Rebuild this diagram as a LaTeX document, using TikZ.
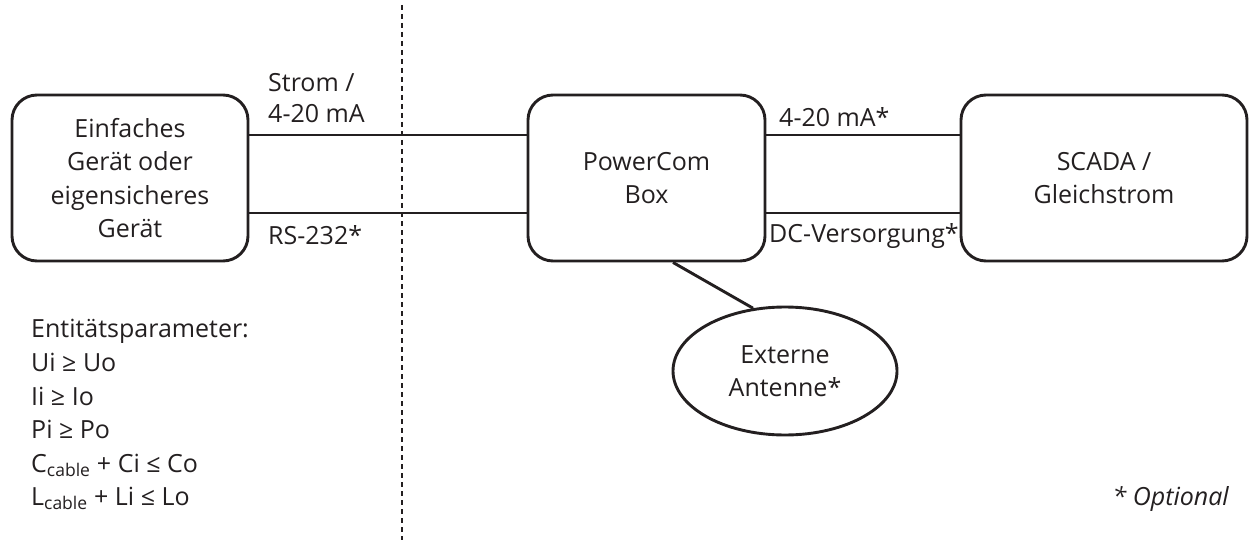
\documentclass[tikz,border=0pt]{standalone}
\usepackage{fontspec}
\setmainfont{Open Sans}
\usetikzlibrary{shapes.geometric,calc}
\definecolor{ink}{HTML}{231F20}
\tikzset{
  txt/.style={text=ink, font=\fontsize{25}{33.5}\selectfont},
  box/.style={txt, draw=ink, line width=2.9pt, rounded corners=25pt, minimum height=166pt, inner sep=0pt, align=center},
  oval/.style={txt, draw=ink, line width=2.9pt, ellipse, minimum width=224pt, minimum height=128pt, inner sep=0pt, align=center},
  wire/.style={draw=ink, line width=2.9pt},
  lbl/.style={txt, inner sep=0pt, anchor=base west},
  divider/.style={draw=ink, line width=1.2pt, dash pattern=on 5pt off 4pt}
}
\begin{document}
\begin{tikzpicture}[x=1pt,y=-1pt]
\useasboundingbox (0,0) rectangle (1249,540);
% divider
\coordinate (dtop) at (402,5);
\coordinate (dbot) at (402,540);
\draw[divider] (dtop) -- (dbot);
% boxes
\node[box, minimum width=236pt] (dev) at (130,178) {Einfaches\\Gerät oder\\eigensicheres\\Gerät};
\node[box, minimum width=237pt] (pc) at (646.5,178) {PowerCom\\Box};
\node[box, minimum width=286pt] (scada) at (1104,178) {SCADA /\\Gleichstrom};
\node[oval] (ant) at (785,371) {Externe\\Antenne*};
% wires
\draw[wire] ($(dev.east)+(0,-43)$) -- ($(pc.west)+(0,-43)$);
\draw[wire] ($(dev.east)+(0,35)$) -- ($(pc.west)+(0,35)$);
\draw[wire] ($(pc.east)+(0,-43)$) -- ($(scada.west)+(0,-43)$);
\draw[wire] ($(pc.east)+(0,35)$) -- ($(scada.west)+(0,35)$);
\draw[wire] ($(pc.south)+(26.5,0)$) -- (ant.117);
% wire labels
\node[lbl] (l1a) at (268,92) {Strom /};
\node[lbl] (l1b) at (268,123) {4-20 mA};
\node[lbl] (l2) at (268,244) {RS-232*};
\node[lbl] (l3) at (779,127) {4-20 mA*};
\node[lbl] (l4) at (769,242) {DC-Versorgung*};
% parameters
\node[lbl] (p0) at (31,337) {Entitätsparameter:};
\node[lbl] (p1) at (31,371) {Ui ≥ Uo};
\node[lbl] (p2) at (31,405) {Ii ≥ Io};
\node[lbl] (p3) at (31,438) {Pi ≥ Po};
\node[lbl] (p4) at (31,472) {C\textsubscript{cable} + Ci ≤ Co};
\node[lbl] (p5) at (31,505) {L\textsubscript{cable} + Li ≤ Lo};
% note
\node[lbl, anchor=base east, font=\fontsize{25}{33.5}\selectfont\itshape] (opt) at (1229,505) {* Optional};
\end{tikzpicture}
\end{document}
